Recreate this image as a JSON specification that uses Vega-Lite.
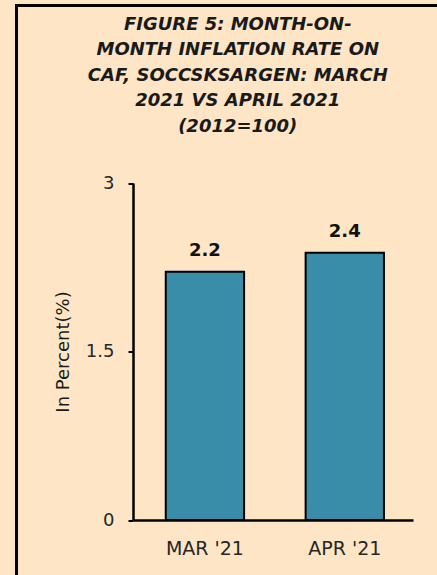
{
  "$schema": "https://vega.github.io/schema/vega-lite/v6.json",
  "width": 430.5,
  "height": 579.5,
  "autosize": {"type": "none"},
  "padding": {"left": 16.5, "top": 5.5, "right": -10, "bottom": -10},
  "background": "#FDE5C6",
  "view": {"stroke": "black", "strokeWidth": 3, "fill": null},
  "title": {
    "text": ["FIGURE 5: MONTH-ON-", "MONTH INFLATION RATE ON", "CAF, SOCCSKSARGEN: MARCH", "2021 VS APRIL 2021", "(2012=100)"],
    "font": "DejaVu Sans",
    "fontSize": 18,
    "fontWeight": "bold",
    "fontStyle": "italic",
    "color": "#1a1a1a",
    "lineHeight": 25.5,
    "anchor": "middle",
    "offset": -130,
    "dx": 6
  },
  "data": {
    "values": [
      {"month": "MAR '21", "rate": 2.21},
      {"month": "APR '21", "rate": 2.38}
    ]
  },
  "encoding": {
    "x": {
      "field": "month",
      "type": "nominal",
      "sort": null,
      "scale": {"range": [116.5, 396.5], "paddingInner": 0.44, "paddingOuter": 0.221, "align": 0.53},
      "axis": {
        "title": null,
        "orient": "bottom",
        "offset": -65,
        "labelAngle": 0,
        "domainColor": "black",
        "domainWidth": 2.5,
        "ticks": false,
        "grid": false,
        "labelFont": "DejaVu Sans",
        "labelFontSize": 19,
        "labelColor": "#262626",
        "labelPadding": 19
      }
    },
    "y": {
      "field": "rate",
      "type": "quantitative",
      "scale": {"domain": [0, 3], "range": [514.5, 177.5], "nice": false, "zero": true},
      "axis": {
        "title": "In Percent(%)",
        "values": [0, 1.5, 3],
        "labelExpr": "toString(datum.value)",
        "offset": -116.5,
        "grid": false,
        "domainColor": "black",
        "domainWidth": 2.5,
        "tickColor": "black",
        "tickWidth": 2,
        "tickSize": 5,
        "labelFont": "DejaVu Sans",
        "labelFontSize": 18,
        "labelColor": "#262626",
        "labelPadding": 14,
        "titleFont": "DejaVu Sans",
        "titleFontSize": 18,
        "titleFontWeight": "normal",
        "titleColor": "#1a1a1a",
        "titlePadding": 13
      }
    }
  },
  "layer": [
    {"mark": {"type": "bar", "fill": "#3A8DA8", "stroke": "black", "strokeWidth": 2}},
    {
      "mark": {"type": "text", "dy": -16, "baseline": "alphabetic", "font": "DejaVu Sans", "fontSize": 18, "fontWeight": "bold", "color": "#111111"},
      "encoding": {"text": {"field": "rate", "type": "quantitative", "format": ".1f"}}
    }
  ]
}
